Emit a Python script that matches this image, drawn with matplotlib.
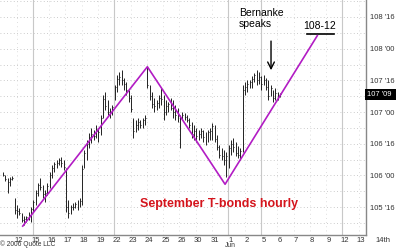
import numpy as np
import matplotlib.pyplot as plt
from matplotlib.transforms import blended_transform_factory

plt.rcParams['font.family'] = ['Liberation Sans', 'DejaVu Sans']

# hourly September T-bond bars (decimal points), starting late May 11th
highs = [106.05, 106.00, 105.96, 105.97, 105.99, 105.64, 105.53, 105.48, 105.40, 105.36,
         105.36, 105.42, 105.50, 105.61, 105.77, 105.88, 105.96, 105.85, 105.77, 105.88,
         106.05, 106.16, 106.21, 106.24, 106.27, 106.29, 106.24, 106.12, 105.61, 105.53,
         105.56, 105.58, 105.61, 105.64, 106.16, 106.40, 106.56, 106.67, 106.75, 106.72,
         106.79, 106.75, 106.95, 107.27, 107.32, 107.19, 107.06, 107.11, 107.43, 107.58,
         107.63, 107.66, 107.54, 107.47, 107.35, 107.27, 106.91, 106.87, 106.91, 106.87,
         106.91, 106.95, 107.71, 107.43, 107.32, 107.22, 107.19, 107.27, 107.38, 107.27,
         107.19, 107.16, 107.22, 107.19, 107.11, 107.06, 106.95, 107.00, 106.98, 106.95,
         106.91, 106.84, 106.79, 106.75, 106.72, 106.75, 106.72, 106.68, 106.72, 106.75,
         106.83, 106.79, 106.64, 106.48, 106.43, 106.40, 106.37, 106.48, 106.56, 106.59,
         106.53, 106.46, 106.43, 107.43, 107.47, 107.51, 107.51, 107.57, 107.62, 107.66,
         107.63, 107.57, 107.58, 107.54, 107.51, 107.43, 107.35, 107.38, 107.32, 107.30]
lows = [105.99, 105.91, 105.72, 105.83, 105.93, 105.39, 105.33, 105.37, 105.26, 105.22,
        105.26, 105.29, 105.26, 105.42, 105.53, 105.67, 105.77, 105.64, 105.58, 105.69,
        105.80, 105.96, 106.05, 106.12, 106.16, 106.14, 106.08, 105.42, 105.33, 105.39,
        105.45, 105.48, 105.45, 105.50, 105.53, 106.12, 106.24, 106.43, 106.51, 106.56,
        106.59, 106.53, 106.64, 106.91, 107.03, 106.95, 106.91, 106.95, 107.19, 107.32,
        107.43, 107.43, 107.35, 107.27, 107.16, 107.00, 106.59, 106.68, 106.72, 106.75,
        106.75, 106.79, 107.38, 107.19, 107.06, 107.00, 107.03, 107.06, 107.11, 106.87,
        106.95, 107.00, 107.03, 106.91, 106.87, 106.84, 106.43, 106.87, 106.87, 106.84,
        106.75, 106.59, 106.56, 106.53, 106.56, 106.59, 106.53, 106.48, 106.53, 106.56,
        106.56, 106.53, 106.40, 106.27, 106.24, 106.16, 105.97, 106.12, 106.32, 106.37,
        106.30, 106.27, 106.24, 106.37, 107.27, 107.32, 107.38, 107.38, 107.47, 107.43,
        107.44, 107.35, 107.43, 107.35, 107.19, 107.25, 107.16, 107.19, 107.19, 107.24]
closes = [106.00, 105.94, 105.90, 105.95, 105.96, 105.45, 105.44, 105.40, 105.30, 105.32,
          105.34, 105.38, 105.47, 105.58, 105.72, 105.85, 105.82, 105.70, 105.72, 105.84,
          106.00, 106.12, 106.18, 106.20, 106.25, 106.20, 106.14, 105.50, 105.40, 105.50,
          105.50, 105.55, 105.58, 105.60, 106.10, 106.35, 106.50, 106.60, 106.66, 106.62,
          106.70, 106.68, 106.90, 107.20, 107.10, 107.00, 107.00, 107.08, 107.40, 107.52,
          107.55, 107.50, 107.45, 107.35, 107.22, 107.05, 106.70, 106.80, 106.85, 106.80,
          106.88, 106.90, 107.42, 107.25, 107.12, 107.10, 107.15, 107.22, 107.20, 107.00,
          107.10, 107.12, 107.06, 107.00, 106.95, 106.96, 106.90, 106.95, 106.92, 106.88,
          106.80, 106.65, 106.70, 106.62, 106.66, 106.70, 106.60, 106.55, 106.68, 106.70,
          106.78, 106.58, 106.45, 106.32, 106.30, 106.25, 106.30, 106.44, 106.50, 106.45,
          106.35, 106.32, 106.38, 107.35, 107.40, 107.45, 107.48, 107.52, 107.58, 107.50,
          107.55, 107.45, 107.50, 107.40, 107.25, 107.38, 107.22, 107.30, 107.26, 107.28]

# trading days shown on the axis
day_labels = ['12', '15', '16', '17', '18', '19', '22', '23', '24', '25', '26', '30',
              '31', '1', '2', '5', '6', '7', '8', '9', '12', '13', '14th']
week_starts = [1, 6, 13, 15, 20]

# hand-drawn trend lines (day index, price)
trend_x = [0.23, 7.88, 12.65, 18.31]
trend_y = [105.2, 107.715, 105.86, 108.205]

price_ticks = [105.5, 106.0, 106.5, 107.0, 107.5, 108.0, 108.5]
last_price = 107.28


def fmt_price(p):
    whole = int(p)
    return "%d '%02d" % (whole, round((p - whole) * 32))


bar_x = np.arange(len(highs)) / 7 - 0.98

fig = plt.figure(figsize=(4, 2.48), dpi=100)
ax = fig.add_axes([0, 0.052, 0.915, 0.948])
ax.set_xlim(-1.166, 21.3)
ax.set_ylim(105.058, 108.768)

# grid
for p in np.arange(105.25, 108.76, 0.25):
    ax.axhline(p, color='#bbbbbb', lw=0.6, ls=(0, (1, 3)), zorder=0)
for d in range(len(day_labels)):
    ax.axvline(d - 0.15, color='#d4d4d4', lw=0.6, ls=(0, (1, 4)), zorder=0)
for d in week_starts:
    ax.axvline(d - 0.15, color='#c8c8c8', lw=0.8, zorder=0)

# OHLC bars
ax.vlines(bar_x, lows, highs, color='#222222', lw=0.7, zorder=2)
ax.hlines(closes, bar_x, bar_x + 0.06, color='#222222', lw=0.7, zorder=2)

ax.plot(trend_x, trend_y, color='#b21cc4', lw=1.2, zorder=3)

for s in ['top', 'left']:
    ax.spines[s].set_visible(False)
for s in ['right', 'bottom']:
    ax.spines[s].set_color('#888888')
    ax.spines[s].set_linewidth(1.0)

ax.set_xticks([])
ax.yaxis.tick_right()
ax.set_yticks(price_ticks)
ax.set_yticklabels([fmt_price(p) for p in price_ticks], fontsize=5.5, color='#333333')
ax.tick_params(axis='y', length=0, pad=3)

ax.text(1.004, last_price, fmt_price(last_price) + ' ',
        transform=blended_transform_factory(ax.transAxes, ax.transData),
        fontsize=5.5, color='white', va='center', ha='left',
        bbox=dict(boxstyle='square,pad=0.3', fc='black', ec='none'), clip_on=False)

tr = blended_transform_factory(ax.transData, ax.transAxes)
for d, lab in enumerate(day_labels):
    ax.text(d + (0.35 if lab == '14th' else 0), -0.006, lab, transform=tr, fontsize=5.5,
            color='#333333', ha='center', va='top', clip_on=False)
ax.text(13, -0.031, 'Jun', transform=tr, fontsize=4.8, color='#333333', ha='center', va='top', clip_on=False)
fig.text(0.0, 0.0, '\u00a9 2006 Quote LLC', fontsize=4.8, color='#333333', ha='left', va='bottom')

# annotations
ax.text(13.5, 108.47, 'Bernanke\nspeaks', fontsize=7.5, ha='left', va='center', linespacing=1.15)
ax.annotate('', xy=(15.47, 107.66), xytext=(15.47, 108.12),
            arrowprops=dict(arrowstyle='->', color='black', lw=1.0, mutation_scale=12,
                            shrinkA=0, shrinkB=0))
ax.text(18.45, 108.36, '108-12', fontsize=7.5, ha='center', va='center')
ax.plot([17.68, 19.33], [108.23, 108.23], color='black', lw=1.2)
ax.text(12.28, 105.547, 'September T-bonds hourly', fontsize=9, fontweight='bold',
        color='#d4141c', ha='center', va='center')

fig.savefig('out.png', dpi=100)
